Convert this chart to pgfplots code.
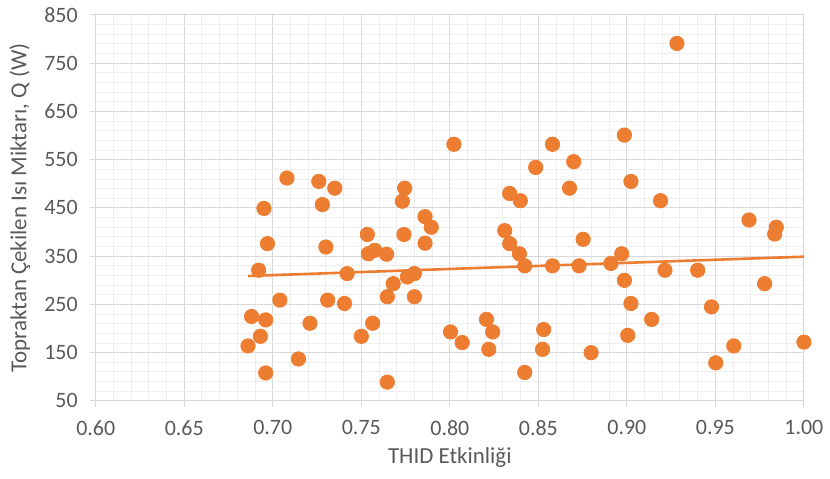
\documentclass[border=0pt]{standalone}
\usepackage{fontspec}
\setmainfont{Carlito}
\usepackage{pgfplots}
\usepackage{pgfplotstable}
\pgfplotsset{compat=1.18}
\definecolor{dot}{HTML}{ED7D31}
\definecolor{txt}{HTML}{595959}
\definecolor{majg}{HTML}{D9D9D9}
\definecolor{ming}{HTML}{EEEEEE}
\pgfplotstableread{
x y
0.686 164
0.688 225
0.692 321
0.693 184
0.696 218
0.696 108
0.697 376
0.695 449
0.704 259
0.708 512
0.7145 137
0.721 211
0.726 505
0.728 457
0.730 369
0.731 259
0.735 491
0.7405 252
0.742 314
0.750 184
0.7534 395
0.754 355
0.7576 362
0.7564 211
0.7643 354
0.7647 89
0.7647 266
0.768 293
0.7741 395
0.7732 464
0.7745 491
0.776 307
0.780 314
0.780 266
0.786 432
0.7895 410
0.786 377
0.8004 193
0.8023 582
0.807 171
0.8207 219
0.822 157
0.8242 193
0.831 403
0.8338 376
0.8338 480
0.8398 465
0.8393 355
0.8423 330
0.8423 109
0.8485 534
0.8524 157
0.853 198
0.858 582
0.858 330
0.8676 491
0.870 546
0.873 330
0.8753 385
0.8798 150
0.891 335
0.8971 355
0.8986 601
0.8986 300
0.9005 186
0.9023 505
0.9023 252
0.914 219
0.919 465
0.9215 321
0.9283 791
0.940 321
0.9478 245
0.9502 129
0.9604 164
0.969 425
0.9778 293
0.9844 410
0.9835 396
1.000 172
}\pts
\begin{document}
\begin{tikzpicture}
\begin{axis}[
  scale only axis, width=355pt, height=193.5pt,
  xmin=0.6, xmax=1.0, ymin=50, ymax=850,
  xtick={0.60,0.65,0.70,0.75,0.80,0.85,0.90,0.95,1.00},
  ytick={50,150,250,350,450,550,650,750,850},
  minor xtick={0.61,0.62,0.63,0.64,0.66,0.67,0.68,0.69,0.71,0.72,0.73,0.74,0.76,0.77,0.78,0.79,0.81,0.82,0.83,0.84,0.86,0.87,0.88,0.89,0.91,0.92,0.93,0.94,0.96,0.97,0.98,0.99},
  minor ytick={70,90,110,130,170,190,210,230,270,290,310,330,370,390,410,430,470,490,510,530,570,590,610,630,670,690,710,730,770,790,810,830},
  grid=both,
  major grid style={majg, line width=0.5pt},
  minor grid style={ming, line width=0.5pt},
  axis line style={majg, line width=0.5pt},
  xtick pos=bottom, ytick pos=left,
  tick align=outside,
  major tick length=3pt, minor tick length=0pt,
  major tick style={majg, line width=0.5pt},
  /pgf/number format/assume math mode=true,
  tick label style={txt, font=\fontsize{11}{13}\selectfont},
  xticklabel style={/pgf/number format/.cd, fixed, fixed zerofill, precision=2, /tikz/.cd, yshift=-3.2pt},
  yticklabel style={xshift=-2.5pt},
  xlabel={THID Etkinliği},
  ylabel={Topraktan Çekilen Isı Miktarı, Q (W)},
  label style={txt, font=\fontsize{11.5}{13.5}\selectfont},
  xlabel style={at={(axis description cs:0.5,0)}, anchor=base, yshift=-31.5pt},
  ylabel style={at={([xshift=-38pt]axis description cs:0,0.5)}, anchor=center, rotate=0},
  clip=false,
]
\addplot[only marks, mark=*, mark size=3.6pt, draw=dot, fill=dot] table[x=x, y=y] {\pts};
\addplot[dot, line width=1.3pt, no marks] coordinates {(0.686,309) (1.0,349)};
\end{axis}
\path (-48pt,-39pt) rectangle (367pt,201pt);
\end{tikzpicture}
\end{document}
